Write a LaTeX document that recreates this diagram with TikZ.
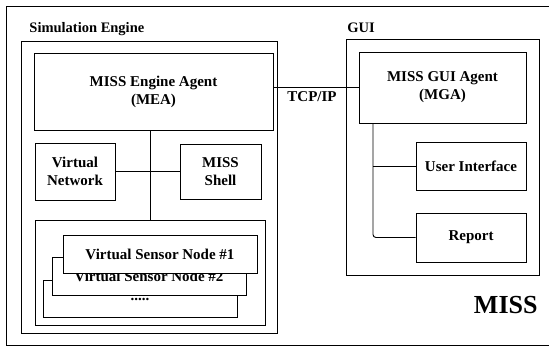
\documentclass[tikz,border=0pt]{standalone}
\usepackage{fontspec}
\setmainfont{Liberation Serif}
\usepackage{tikz}
\usetikzlibrary{positioning}

\begin{document}
\begin{tikzpicture}
[
  x=1pt, y=-1pt, line width=0.9pt,
  every node/.style={font=\fontsize{15}{18}\selectfont\bfseries},
  box/.style={rectangle,draw=black,fill=white,inner sep=0pt,align=center},
  frame/.style={rectangle,draw=black,inner sep=0pt},
  label/.style={font=\fontsize{14.5}{17}\selectfont\bfseries,inner sep=0pt},
]
\useasboundingbox (0,0) rectangle (549,346);
\draw (549,6) -- (6,6) -- (6,345) -- (549,345);

% simulation engine side
\node[frame,minimum width=256pt,minimum height=292pt] (sim) at (149,187){};
\node[label,anchor=base west] (simlabel) at (29,32) {Simulation Engine};
\node[box,minimum width=239pt,minimum height=77pt] (mea) at (153.5,91.5) {MISS Engine Agent\\(MEA)};
\node[box,minimum width=80pt,minimum height=57pt] (vnet) at (75,171.5) {Virtual\\Network};
\node[box,minimum width=81pt,minimum height=55pt] (shell) at (220.5,171.5) {MISS\\Shell};
\node[box,minimum width=230pt,minimum height=105pt] (sensors) at (150,272.5){};
\node[box,minimum width=194pt,minimum height=37pt] (vsn3) at (140,298.5) {\raisebox{-4pt}{.....}};
\node[box,minimum width=194pt,minimum height=38pt] (vsn2) at (149,276) {Virtual Sensor Node \#2};
\node[box,minimum width=194pt,minimum height=38pt] (vsn1) at (160,254) {Virtual Sensor Node \#1};
\draw (sensors.north) -- (sensors.north |- mea.south);
\draw (vnet) -- (shell);

% gui side
\node[frame,minimum width=193pt,minimum height=236pt] (gui) at (442.5,157){};
\node[label,anchor=base west] (guilabel) at (347,32) {GUI};
\node[box,minimum width=167pt,minimum height=71pt] (mga) at (442.5,87.5) {MISS GUI Agent\\(MGA)};
\node[box,minimum width=110pt,minimum height=48pt] (ui) at (471,166) {User Interface};
\node[box,minimum width=110pt,minimum height=49pt] (report) at (471,237.5) {Report};
\coordinate (trunk) at (373,123);
\draw[rounded corners=3pt] (mga.south -| trunk) |- (report);
\draw (ui) -- (ui -| trunk);

% link between the two
\draw (mea.east |- mga.west) -- node[below=4pt,xshift=-4pt,inner sep=0pt] (tcp) {TCP/IP} (mga.west);

\node[font=\fontsize{26}{30}\selectfont\bfseries,anchor=base east,inner sep=0pt] (miss) at (538,313) {MISS};
\end{tikzpicture}
\end{document}
